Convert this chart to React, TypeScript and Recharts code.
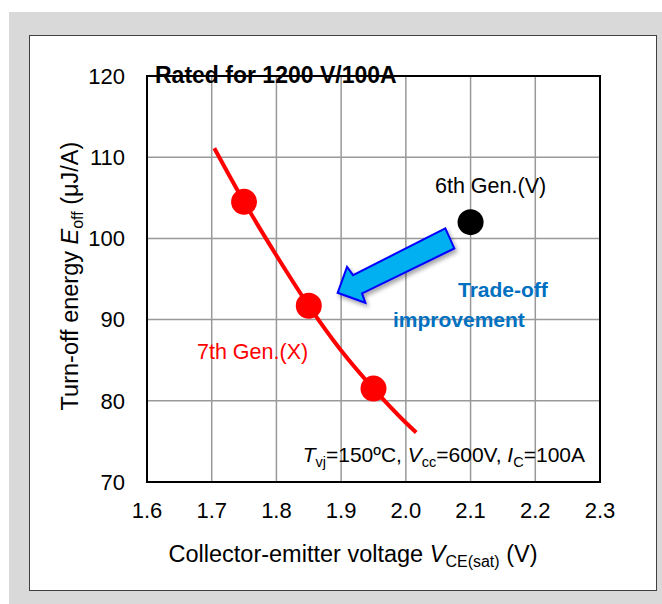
import React from 'react';
import {
  ComposedChart,
  XAxis,
  YAxis,
  CartesianGrid,
  Line,
  Scatter,
  ReferenceArea,
  ReferenceDot,
  Customized,
} from 'recharts';

const FONT = '"Liberation Sans", Arial, Helvetica, sans-serif';

// ---- data ----
const xTicks = [1.6, 1.7, 1.8, 1.9, 2.0, 2.1, 2.2, 2.3];
const yTicks = [70, 80, 90, 100, 110, 120];

const curveX = [1.704, 1.75, 1.8, 1.85, 1.9, 1.95, 2.0, 2.016];
const curveY = [111.1, 104.5, 97.9, 91.7, 86.2, 81.5, 77.3, 76.1];

const gen7X = [1.75, 1.85, 1.95];
const gen7Y = [104.5, 91.7, 81.5];

const gen6X = [2.1];
const gen6Y = [102.0];

// arrow tip (annotation anchor, data coords)
const arrowTip = { x: 1.8946, y: 93.3 };

const curveData = curveX.map((x, i) => ({ x, y: curveY[i] }));
const gen7Data = gen7X.map((x, i) => ({ x, y: gen7Y[i] }));
const gen6Data = gen6X.map((x, i) => ({ x, y: gen6Y[i] }));

const RedDot = (p: any) => <circle cx={p.cx} cy={p.cy} r={13} fill="#ff0000" />;
const BlackDot = (p: any) => <circle cx={p.cx} cy={p.cy} r={13} fill="#000000" />;

const ArrowShape = (p: any) => {
  const cx = p.cx;
  const cy = p.cy;
  const pts = [
    [107.7, -64.4],
    [116.7, -44.4],
    [24.4, 0.6],
    [27.7, 10],
    [0, 0],
    [9.4, -26],
    [15.4, -17.7],
  ]
    .map(([dx, dy]) => `${cx + dx},${cy + dy}`)
    .join(' ');
  return (
    <g>
      <defs>
        <filter id="arrowShadow" x="-20%" y="-20%" width="140%" height="160%">
          <feDropShadow dx="2" dy="3" stdDeviation="2" floodColor="#000" floodOpacity="0.35" />
        </filter>
      </defs>
      <polygon
        points={pts}
        fill="#00b0f0"
        stroke="#0000ff"
        strokeWidth={2}
        strokeLinejoin="miter"
        filter="url(#arrowShadow)"
      />
    </g>
  );
};

const Annotations = () => (
  <g fontFamily={FONT}>
    <text x={155} y={83} fontSize={23} fontWeight="bold" fill="#000">
      Rated for 1200 V/100A
    </text>
    <text x={435} y={193} fontSize={21.5} fill="#000">
      6th Gen.(V)
    </text>
    <text x={458} y={297} fontSize={21} fontWeight="bold" fill="#0070c0">
      Trade-off
    </text>
    <text x={393} y={327} fontSize={21} fontWeight="bold" fill="#0070c0">
      improvement
    </text>
    <text x={197} y={359} fontSize={21.5} fill="#ff0000">
      7th Gen.(X)
    </text>
    <text x={585} y={462} fontSize={21} fill="#000" textAnchor="end">
      <tspan fontStyle="italic">T</tspan>
      <tspan fontSize={14.5} dy={5}>vj</tspan>
      <tspan dy={-5}>=150ºC, </tspan>
      <tspan fontStyle="italic">V</tspan>
      <tspan fontSize={14.5} dy={5}>cc</tspan>
      <tspan dy={-5}>=600V, </tspan>
      <tspan fontStyle="italic">I</tspan>
      <tspan fontSize={14.5} dy={5}>C</tspan>
      <tspan dy={-5}>=100A</tspan>
    </text>
    <text x={353} y={562} fontSize={23.5} fill="#000" textAnchor="middle">
      <tspan>Collector-emitter voltage </tspan>
      <tspan fontStyle="italic">V</tspan>
      <tspan fontSize={16} dy={5}>CE(sat)</tspan>
      <tspan dy={-5}> (V)</tspan>
    </text>
    <text
      x={77.5}
      y={276}
      fontSize={23.5}
      fill="#000"
      textAnchor="middle"
      transform="rotate(-90, 77.5, 276)"
    >
      <tspan>Turn-off energy </tspan>
      <tspan fontStyle="italic">E</tspan>
      <tspan fontSize={16} dy={5}>off</tspan>
      <tspan dy={-5}> (μJ/A)</tspan>
    </text>
  </g>
);

export default function App() {
  return (
    <div style={{ position: 'absolute', left: 0, top: 0, width: 662, height: 604, background: '#ffffff', overflow: 'hidden' }}>
      <div style={{ position: 'absolute', left: 9, top: 12, right: 0, bottom: 0, background: '#d9d9d9' }} />
      <div
        style={{
          position: 'absolute',
          left: 29,
          top: 35,
          width: 626,
          height: 554,
          background: '#ffffff',
          border: '1px solid #404040',
        }}
      />
      <div style={{ position: 'absolute', left: 0, top: 0 }}>
        <ComposedChart width={662} height={604} margin={{ top: 76, right: 62, bottom: 92, left: 87 }}>
          <CartesianGrid stroke="#999999" strokeWidth={1.5} />
          <XAxis
            type="number"
            dataKey="x"
            domain={[1.6, 2.3]}
            ticks={xTicks}
            interval={0}
            allowDataOverflow
            height={30}
            tickLine={false}
            axisLine={false}
            tickSize={0}
            tickMargin={20}
            tickFormatter={(v: number) => v.toFixed(1)}
            tick={{ fontSize: 22, fill: '#000', fontFamily: FONT }}
          />
          <YAxis
            type="number"
            dataKey="y"
            domain={[70, 120]}
            ticks={yTicks}
            interval={0}
            allowDataOverflow
            width={60}
            tickLine={false}
            axisLine={false}
            tickSize={0}
            tickMargin={22}
            tick={{ fontSize: 22, fill: '#000', fontFamily: FONT }}
          />
          <ReferenceArea x1={1.6} x2={2.3} y1={70} y2={120} fill="none" stroke="#000" strokeWidth={2} />
          <Line
            data={curveData}
            dataKey="y"
            type="monotone"
            stroke="#ff0000"
            strokeWidth={4}
            dot={false}
            activeDot={false}
            isAnimationActive={false}
          />
          <Scatter data={gen7Data} dataKey="y" shape={RedDot} isAnimationActive={false} />
          <Scatter data={gen6Data} dataKey="y" shape={BlackDot} isAnimationActive={false} />
          <ReferenceDot x={arrowTip.x} y={arrowTip.y} shape={(p: any) => <ArrowShape cx={p.cx} cy={p.cy} />} />
          <Customized component={Annotations} />
        </ComposedChart>
      </div>
    </div>
  );
}
